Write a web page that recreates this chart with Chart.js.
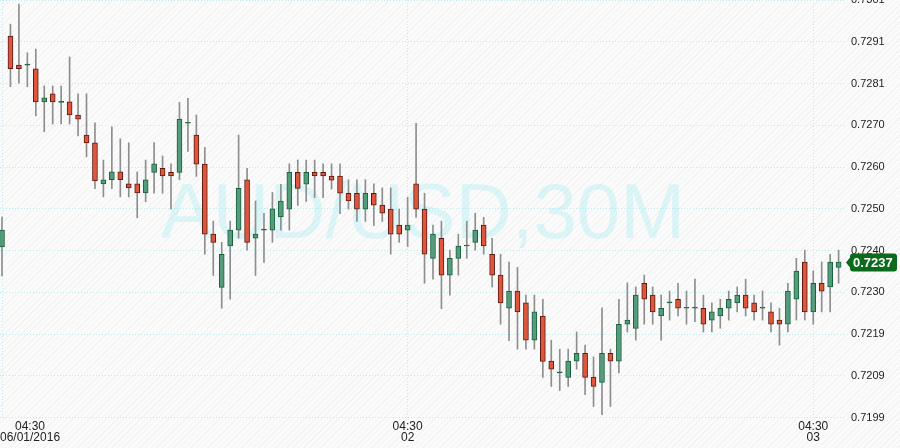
<!DOCTYPE html>
<html>
<head>
<meta charset="utf-8">
<script src="https://cdn.jsdelivr.net/npm/chart.js@4.4.1/dist/chart.umd.min.js"></script>
<style>
  html, body { margin: 0; padding: 0; }
  body {
    width: 900px; height: 448px; overflow: hidden;
    background: repeating-linear-gradient(135deg, #fbfbfb 0px, #fbfbfb 3px, #f3f3f3 3px, #f3f3f3 4px);
  }
  #grafico { display: block; }
</style>
</head>
<body>
<canvas id="grafico" width="900" height="448"></canvas>
<script>
// AUD/USD 30 minutes, candle index 0 = 04:30 06/01/2016
const opens = [
  0.72407, 0.72922, 0.72851, 0.72851, 0.72842, 0.72761, 0.72781, 0.72760, 0.72761, 0.72729,
  0.72680, 0.72661, 0.72561, 0.72571, 0.72590, 0.72561, 0.72561, 0.72539, 0.72589, 0.72599,
  0.72589, 0.72589, 0.72709, 0.72680, 0.72609, 0.72438, 0.72308, 0.72409, 0.72448, 0.72571,
  0.72428, 0.72448, 0.72448, 0.72480, 0.72499, 0.72589, 0.72560, 0.72589, 0.72589, 0.72580,
  0.72580, 0.72538, 0.72538, 0.72499, 0.72538, 0.72509, 0.72499, 0.72460, 0.72448, 0.72561,
  0.72499, 0.72379, 0.72428, 0.72338, 0.72379, 0.72409, 0.72418, 0.72460, 0.72389, 0.72338,
  0.72257, 0.72299, 0.72270, 0.72179, 0.72238, 0.72128, 0.72099, 0.72088, 0.72128, 0.72147,
  0.72089, 0.72076, 0.72147, 0.72128, 0.72218, 0.72208, 0.72318, 0.72289, 0.72238, 0.72270,
  0.72279, 0.72257, 0.72257, 0.72257, 0.72228, 0.72238, 0.72257, 0.72270, 0.72289, 0.72270,
  0.72257, 0.72248, 0.72228, 0.72218, 0.72279, 0.72370, 0.72248, 0.72318, 0.72309, 0.72357
];
const highs = [
  0.72480, 0.72951, 0.73000, 0.72881, 0.72890, 0.72800, 0.72800, 0.72800, 0.72871, 0.72781,
  0.72781, 0.72710, 0.72619, 0.72700, 0.72671, 0.72661, 0.72590, 0.72619, 0.72662, 0.72629,
  0.72610, 0.72760, 0.72770, 0.72729, 0.72650, 0.72470, 0.72418, 0.72470, 0.72680, 0.72599,
  0.72519, 0.72489, 0.72540, 0.72560, 0.72610, 0.72619, 0.72619, 0.72619, 0.72610, 0.72610,
  0.72610, 0.72571, 0.72571, 0.72571, 0.72561, 0.72551, 0.72551, 0.72499, 0.72528, 0.72709,
  0.72538, 0.72460, 0.72470, 0.72399, 0.72438, 0.72470, 0.72489, 0.72479, 0.72428, 0.72389,
  0.72370, 0.72357, 0.72289, 0.72289, 0.72279, 0.72179, 0.72157, 0.72157, 0.72199, 0.72167,
  0.72138, 0.72258, 0.72157, 0.72279, 0.72319, 0.72309, 0.72338, 0.72309, 0.72289, 0.72299,
  0.72318, 0.72299, 0.72328, 0.72289, 0.72270, 0.72279, 0.72299, 0.72309, 0.72328, 0.72289,
  0.72299, 0.72270, 0.72257, 0.72318, 0.72379, 0.72399, 0.72348, 0.72370, 0.72389, 0.72399
];
const lows = [
  0.72336, 0.72798, 0.72807, 0.72798, 0.72727, 0.72688, 0.72707, 0.72707, 0.72707, 0.72678,
  0.72627, 0.72549, 0.72529, 0.72549, 0.72529, 0.72529, 0.72478, 0.72517, 0.72538, 0.72538,
  0.72499, 0.72571, 0.72640, 0.72579, 0.72389, 0.72337, 0.72257, 0.72279, 0.72428, 0.72399,
  0.72337, 0.72369, 0.72418, 0.72448, 0.72448, 0.72508, 0.72518, 0.72527, 0.72527, 0.72548,
  0.72488, 0.72499, 0.72469, 0.72469, 0.72459, 0.72469, 0.72389, 0.72418, 0.72408, 0.72479,
  0.72318, 0.72328, 0.72256, 0.72289, 0.72338, 0.72379, 0.72399, 0.72389, 0.72309, 0.72218,
  0.72178, 0.72157, 0.72157, 0.72157, 0.72088, 0.72066, 0.72056, 0.72066, 0.72108, 0.72046,
  0.72017, 0.71997, 0.72017, 0.72099, 0.72199, 0.72179, 0.72218, 0.72218, 0.72179, 0.72228,
  0.72238, 0.72218, 0.72224, 0.72199, 0.72199, 0.72208, 0.72228, 0.72248, 0.72238, 0.72228,
  0.72228, 0.72199, 0.72167, 0.72199, 0.72228, 0.72228, 0.72218, 0.72248, 0.72248, 0.72318
];
const closes = [
  0.72448, 0.72842, 0.72842, 0.72851, 0.72761, 0.72771, 0.72761, 0.72760, 0.72729, 0.72719,
  0.72661, 0.72568, 0.72571, 0.72590, 0.72571, 0.72551, 0.72539, 0.72571, 0.72610, 0.72580,
  0.72580, 0.72719, 0.72709, 0.72609, 0.72438, 0.72418, 0.72389, 0.72448, 0.72550, 0.72418,
  0.72438, 0.72448, 0.72500, 0.72519, 0.72589, 0.72550, 0.72589, 0.72580, 0.72580, 0.72570,
  0.72538, 0.72519, 0.72499, 0.72538, 0.72509, 0.72489, 0.72438, 0.72438, 0.72460, 0.72499,
  0.72389, 0.72438, 0.72338, 0.72379, 0.72409, 0.72409, 0.72448, 0.72409, 0.72338, 0.72270,
  0.72299, 0.72248, 0.72179, 0.72248, 0.72127, 0.72108, 0.72099, 0.72128, 0.72147, 0.72088,
  0.72066, 0.72147, 0.72128, 0.72218, 0.72228, 0.72289, 0.72279, 0.72248, 0.72257, 0.72270,
  0.72257, 0.72257, 0.72257, 0.72218, 0.72248, 0.72257, 0.72279, 0.72289, 0.72257, 0.72248,
  0.72257, 0.72218, 0.72218, 0.72299, 0.72348, 0.72248, 0.72318, 0.72299, 0.72370, 0.72370
];

// price axis ticks (as the reference prints them)
const yTicks = [0.71990, 0.72092, 0.72194, 0.72296, 0.72398, 0.72500, 0.72602, 0.72704, 0.72806, 0.72908, 0.73010];
// time axis ticks
const xTickIdx = [0, 48, 96];
const xTickHora = ['04:30', '04:30', '04:30'];
const xTickData = ['06/01/2016', '02', '03'];

const simbolo = 'AUD/USD,30M';

const corVerde = '#559c7c';
const bordaVerde = '#17603a';
const corVermelha = '#de563c';
const bordaVermelha = '#5c1a12';

const corpos = opens.map((o, i) => ({ x: i, y: [o, closes[i]] }));
const pavios = lows.map((l, i) => ({ x: i, y: [l, highs[i]] }));

function sobe(i) {
  return closes[i] >= opens[i];
}

const marcaDagua = {
  id: 'marcaDagua',
  beforeDatasetsDraw(chart) {
    const c = chart.ctx;
    const a = chart.chartArea;
    c.save();
    c.font = '78px "Liberation Sans", Arial, sans-serif';
    c.fillStyle = 'rgba(140, 232, 240, 0.28)';
    c.textAlign = 'center';
    c.textBaseline = 'alphabetic';
    c.fillText(simbolo, a.left + 423, 238);
    c.restore();
  }
};

const rotulosTempo = {
  id: 'rotulosTempo',
  afterDraw(chart) {
    const c = chart.ctx;
    const x = chart.scales.x;
    c.save();
    c.font = '12px "Liberation Sans", Arial, sans-serif';
    c.fillStyle = '#222';
    c.textBaseline = 'middle';
    c.textAlign = 'left';
    xTickIdx.forEach((idx, k) => {
      const px = x.getPixelForValue(idx);
      const w1 = c.measureText(xTickHora[k]).width;
      const w2 = c.measureText(xTickData[k]).width;
      const w = Math.max(w1, w2);
      let centro = Math.max(px, w / 2);
      c.fillText(xTickHora[k], centro - w1 / 2, 427);
      c.fillText(xTickData[k], centro - w2 / 2, 438);
    });
    c.restore();
  }
};

const etiquetaPreco = {
  id: 'etiquetaPreco',
  afterDraw(chart) {
    const c = chart.ctx;
    const y = chart.scales.y;
    const ultimo = closes[closes.length - 1];
    const py = Math.round(y.getPixelForValue(ultimo)) + 0.5;
    const esq = 850, dir = 897, h = 9, r = 3;
    c.save();
    c.fillStyle = '#0b6a1c';
    c.beginPath();
    c.moveTo(846, py);
    c.lineTo(esq, py - 5);
    c.lineTo(esq, py - h + r);
    c.quadraticCurveTo(esq, py - h, esq + r, py - h);
    c.lineTo(dir - r, py - h);
    c.quadraticCurveTo(dir, py - h, dir, py - h + r);
    c.lineTo(dir, py + h - r);
    c.quadraticCurveTo(dir, py + h, dir - r, py + h);
    c.lineTo(esq + r, py + h);
    c.quadraticCurveTo(esq, py + h, esq, py + h - r);
    c.lineTo(esq, py + 5);
    c.closePath();
    c.fill();
    c.font = 'bold 13px "Liberation Sans", Arial, sans-serif';
    c.fillStyle = '#ffffff';
    c.textBaseline = 'middle';
    c.textAlign = 'left';
    c.fillText(ultimo.toFixed(4), 853, py + 1);
    c.restore();
  }
};

const ctx = document.getElementById('grafico');

new Chart(ctx, {
  type: 'bar',
  data: {
    datasets: [
      {
        label: 'corpo',
        data: corpos,
        grouped: false,
        barThickness: 5,
        minBarLength: 1,
        borderWidth: 1,
        borderSkipped: false,
        backgroundColor: (c) => opens[c.dataIndex] === closes[c.dataIndex] ? bordaVerde : (sobe(c.dataIndex) ? corVerde : corVermelha),
        borderColor: (c) => sobe(c.dataIndex) ? bordaVerde : bordaVermelha
      },
      {
        label: 'pavio',
        data: pavios,
        grouped: false,
        barThickness: 1,
        borderWidth: 0,
        backgroundColor: '#8e8e8e'
      }
    ]
  },
  options: {
    responsive: false,
    animation: false,
    events: [],
    layout: { padding: 0 },
    plugins: {
      legend: { display: false },
      tooltip: { enabled: false }
    },
    scales: {
      x: {
        type: 'linear',
        offset: false,
        min: -0.2367,
        max: 99.757,
        grid: { offset: false, color: '#b8eef2', drawTicks: false },
        border: { display: false, dash: [1, 2] },
        ticks: { display: false },
        afterBuildTicks: (s) => { s.ticks = xTickIdx.map(v => ({ value: v })); },
        afterFit: (s) => { s.height = 28; s.paddingLeft = 0; s.paddingRight = 0; }
      },
      y: {
        position: 'right',
        min: 0.71984,
        max: 0.7301,
        beginAtZero: false,
        grid: { color: '#b8eef2', drawTicks: false },
        border: { display: false, dash: [1, 2] },
        ticks: {
          padding: 6,
          autoSkip: false,
          color: '#222',
          font: { family: '"Liberation Sans", Arial, sans-serif', size: 11 },
          callback: (v) => v.toFixed(4)
        },
        afterBuildTicks: (s) => { s.ticks = yTicks.map(v => ({ value: v })); },
        afterFit: (s) => { s.width = 55; s.paddingTop = 0; s.paddingBottom = 0; }
      }
    }
  },
  plugins: [marcaDagua, rotulosTempo, etiquetaPreco]
});
</script>
</body>
</html>
